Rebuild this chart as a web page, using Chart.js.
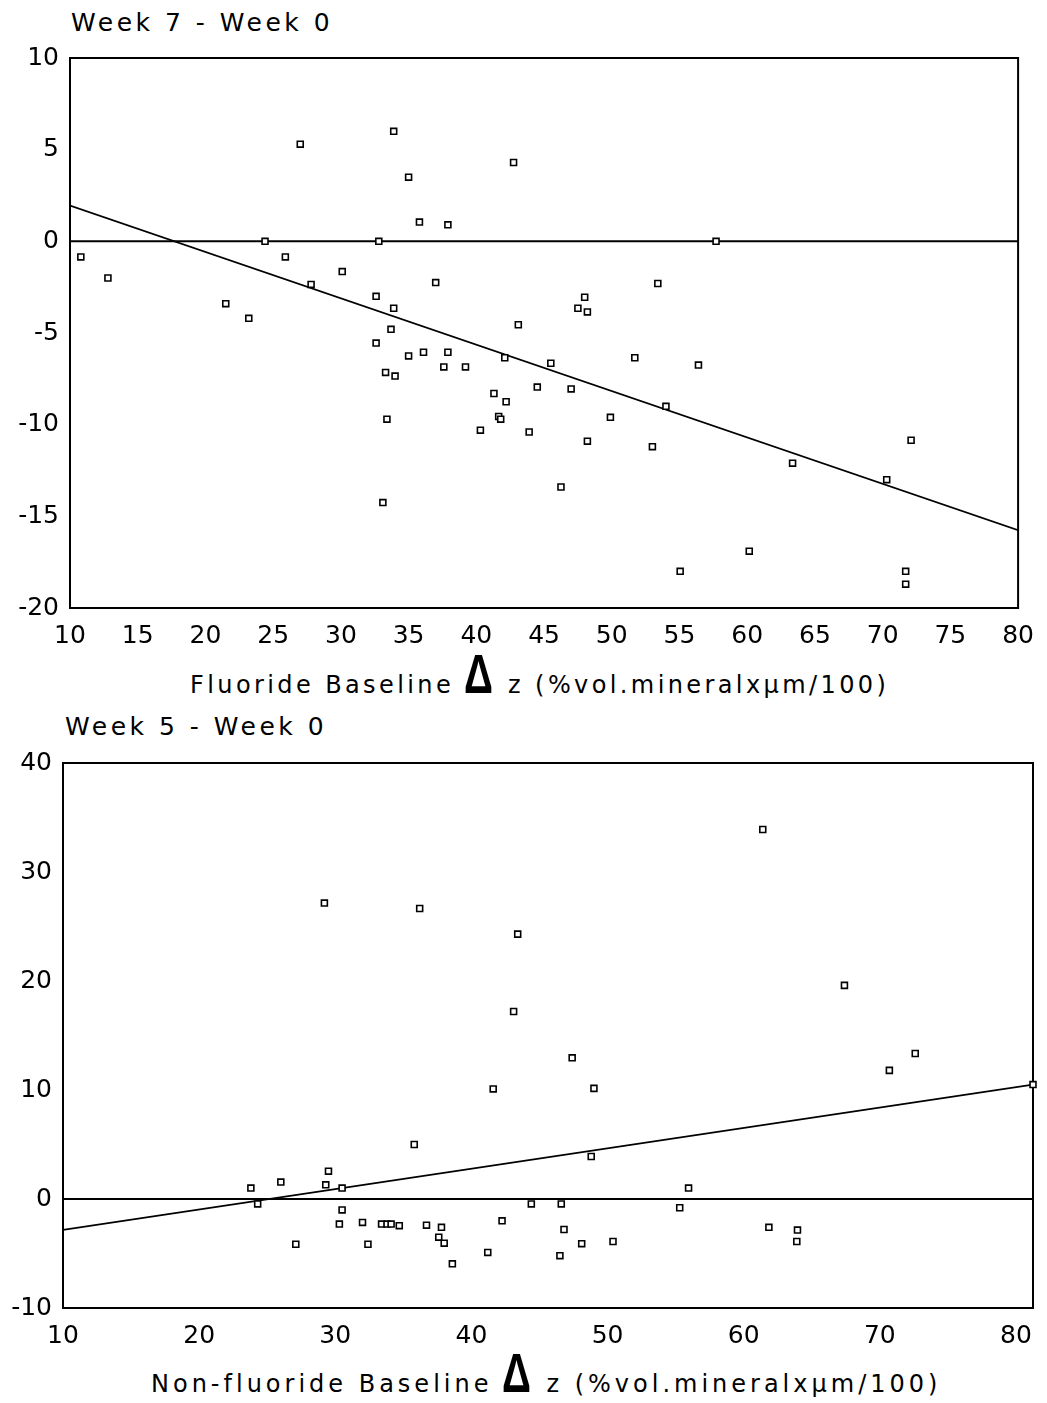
<!DOCTYPE html>
<html>
<head>
<meta charset="utf-8">
<script src="https://cdn.jsdelivr.net/npm/chart.js@4.4.1/dist/chart.umd.min.js"></script>
<style>
  html, body { margin: 0; padding: 0; background: #fff; }
  body { width: 1047px; height: 1403px; position: relative; overflow: hidden; font-family: "DejaVu Sans", sans-serif; color: #000; }
  canvas { position: absolute; left: 0; }
  .lbl { position: absolute; font-size: 24px; line-height: 24px; letter-spacing: 3.4px; white-space: nowrap; }
  .ttl { font-size: 25px; line-height: 25px; letter-spacing: 3.5px; }
  .delta {
    display: inline-block; width: 30px; margin: 0 14px 0 10px;
    font-family: "Liberation Sans", sans-serif; font-weight: bold; font-size: 56px; line-height: 0; letter-spacing: 0;
    transform: scaleX(0.72); transform-origin: left bottom;
  }
</style>
</head>
<body>
<div class="lbl ttl" style="left:71px;top:10px">Week 7 - Week 0</div>
<canvas id="topChart" width="1047" height="650" style="top:0"></canvas>
<div class="lbl" style="left:190px;top:673px">Fluoride Baseline<span class="delta">Δ</span>z (%vol.mineralxμm/100)</div>

<div class="lbl ttl" style="left:65px;top:714px">Week 5 - Week 0</div>
<canvas id="botChart" width="1047" height="650" style="top:700px"></canvas>
<div class="lbl" style="left:151px;top:1372px;letter-spacing:4px">Non-fluoride Baseline<span class="delta">Δ</span>z (%vol.mineralxμm/100)</div>

<script>
// Week 7 - Week 0 vs fluoride baseline
const topX = [10.8, 12.8, 21.5, 23.2, 24.4, 25.9, 27.0, 27.8, 30.1, 32.6, 32.6, 32.8, 33.1, 33.3, 33.4,
  33.7, 33.9, 34.0, 33.9, 35.0, 35.0, 35.8, 36.1, 37.0, 37.6, 37.9, 37.9, 39.2, 40.3, 41.3,
  41.65, 41.8, 42.1, 42.2, 42.75, 43.1, 43.9, 44.5, 45.5, 46.25, 47.0, 47.5, 48.0, 48.2, 48.2,
  49.9, 51.7, 53.0, 53.4, 54.0, 55.05, 56.4, 57.7, 60.15, 63.35, 70.3, 71.7, 71.7, 72.1];
const topY = [-0.85, -2.0, -3.4, -4.2, 0, -0.85, 5.3, -2.35, -1.65, -3.0, -5.55, 0, -14.25, -7.15, -9.7,
  -4.8, -3.65, -7.35, 6.0, 3.5, -6.25, 1.05, -6.05, -2.25, -6.85, 0.9, -6.05, -6.85, -10.3, -8.3,
  -9.55, -9.7, -6.35, -8.75, 4.3, -4.55, -10.4, -7.95, -6.65, -13.4, -8.05, -3.65, -3.05, -3.85, -10.9,
  -9.6, -6.35, -11.2, -2.3, -9.0, -18.0, -6.75, 0, -16.9, -12.1, -13.0, -18.0, -18.7, -10.85];
const topFitX = [10, 80];
const topFitY = [1.95, -15.75];
const topXTicks = [10, 15, 20, 25, 30, 35, 40, 45, 50, 55, 60, 65, 70, 75, 80];
const topYTicks = [-20, -15, -10, -5, 0, 5, 10];

// Week 5 - Week 0 vs non-fluoride baseline
const botX = [23.8, 24.3, 26.0, 27.1, 29.2, 29.3, 29.5, 30.3, 30.5, 30.5, 32.0, 32.4, 33.4, 33.8, 34.1,
  34.7, 35.8, 36.2, 36.7, 37.6, 37.8, 38.0, 38.6, 41.2, 41.6, 42.25, 43.1, 43.4, 44.4, 46.5,
  46.6, 46.8, 47.4, 48.1, 48.8, 49.0, 50.4, 55.3, 55.95, 61.4, 61.85, 63.95, 63.9, 67.4, 70.7,
  72.6, 81.25];
const botY = [1.0, -0.45, 1.55, -4.15, 27.15, 1.3, 2.55, -2.3, 1.0, -1.0, -2.15, -4.15, -2.3, -2.3, -2.3,
  -2.45, 5.0, 26.65, -2.4, -3.5, -2.6, -4.05, -5.95, -4.9, 10.1, -2.0, 17.2, 24.3, -0.45, -5.2,
  -0.45, -2.8, 12.95, -4.1, 3.9, 10.15, -3.9, -0.8, 1.0, 33.9, -2.6, -2.85, -3.9, 19.6, 11.8,
  13.35, 10.5];
const botFitX = [10, 81.25];
const botFitY = [-2.84, 10.5];
const botXTicks = [10, 20, 30, 40, 50, 60, 70, 80];
const botYTicks = [-10, 0, 10, 20, 30, 40];

const zeroY = [0, 0];

Chart.defaults.font.family = '"DejaVu Sans", sans-serif';
Chart.defaults.color = '#000';

const framePlugin = {
  id: 'frame',
  beforeDatasetsDraw(chart) {
    const { ctx, chartArea: a } = chart;
    ctx.save();
    ctx.strokeStyle = '#000';
    ctx.lineWidth = 2;
    ctx.strokeRect(a.left, a.top, a.right - a.left, a.bottom - a.top);
    ctx.restore();
  }
};

const zip = (xs, ys) => xs.map((x, i) => ({ x, y: ys[i] }));

function makeChart(id, p) {
  const tickFont = { size: 25 };
  return new Chart(document.getElementById(id), {
    type: 'scatter',
    data: {
      datasets: [
        {
          data: zip(p.xs, p.ys),
          pointStyle: 'rect',
          pointRadius: 4.2,
          pointBorderWidth: 1.6,
          pointBorderColor: '#000',
          pointBackgroundColor: '#fff',
          clip: false
        },
        {
          data: zip(p.fitX, zeroY),
          showLine: true,
          borderColor: '#000',
          borderWidth: 2,
          pointRadius: 0
        },
        {
          data: zip(p.fitX, p.fitY),
          showLine: true,
          borderColor: '#000',
          borderWidth: 1.7,
          pointRadius: 0
        }
      ]
    },
    options: {
      responsive: false,
      animation: false,
      devicePixelRatio: 1,
      layout: { padding: { top: p.padTop, right: p.padRight, bottom: 0, left: 0 } },
      plugins: { legend: { display: false }, tooltip: { enabled: false } },
      scales: {
        x: {
          type: 'linear',
          min: p.xMin, max: p.xMax,
          afterBuildTicks: s => { s.ticks = p.xTicks.map(v => ({ value: v })); },
          afterFit: s => { s.height = 42; },
          grid: { display: false, drawTicks: false },
          border: { display: false },
          ticks: { font: tickFont, padding: 13, maxRotation: 0, autoSkip: false }
        },
        y: {
          type: 'linear',
          min: p.yMin, max: p.yMax,
          afterBuildTicks: s => { s.ticks = p.yTicks.map(v => ({ value: v })); },
          afterFit: s => { s.width = p.yWidth; },
          grid: { display: false, drawTicks: false },
          border: { display: false },
          ticks: { font: tickFont, padding: 11, autoSkip: false }
        }
      }
    },
    plugins: [framePlugin]
  });
}

makeChart('topChart', {
  xs: topX, ys: topY, fitX: topFitX, fitY: topFitY,
  xTicks: topXTicks, yTicks: topYTicks,
  xMin: 10, xMax: 80, yMin: -20, yMax: 10,
  padTop: 58, padRight: 26, yWidth: 70
});

makeChart('botChart', {
  xs: botX, ys: botY, fitX: botFitX, fitY: botFitY,
  xTicks: botXTicks, yTicks: botYTicks,
  xMin: 10, xMax: 81.25, yMin: -10, yMax: 40,
  padTop: 63, padRight: 14, yWidth: 63
});
</script>
</body>
</html>
